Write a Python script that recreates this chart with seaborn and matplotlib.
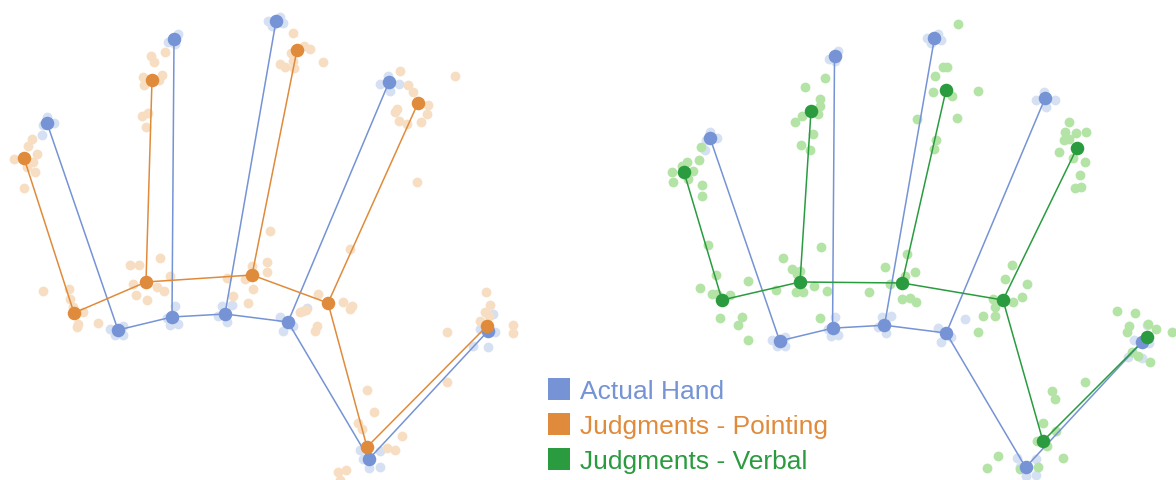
import pandas as pd
import seaborn as sns
import matplotlib.pyplot as plt
from matplotlib.lines import Line2D

# landmark order used by all mean arrays
landmarks = ['wrist', 'thumb', 'index_base', 'index_tip', 'middle_base', 'middle_tip',
             'ring_base', 'ring_tip', 'little_base', 'little_tip']

# mean positions (screen-like units, y grows downward)
actual_x = [369, 488, 288, 389, 225, 276, 172, 174, 118, 47]
actual_y = [460, 332, 323, 83, 315, 22, 318, 40, 331, 124]
pointing_x = [367, 487, 328, 418, 252, 297, 146, 152, 74, 24]
pointing_y = [448, 327, 304, 104, 276, 51, 283, 81, 314, 159]
verbal_x = [386.7, 492.9, 345.9, 421.4, 242.9, 287.8, 138.8, 150.0, 59.2, 20.4]
verbal_y = [433.2, 327.0, 289.3, 134.2, 271.9, 75.0, 270.9, 96.4, 289.3, 158.7]

# individual participants
actual_pts_x = [47, 43, 54, 42, 178, 168, 175, 268, 280, 272, 283, 380, 399, 388, 390,
                110, 123, 115, 123, 175, 167, 178, 170, 222, 232, 218, 227, 280, 283, 293, 307,
                493, 495, 473, 488, 480, 360, 380, 363, 369, 380]
actual_pts_y = [118, 126, 124, 136, 35, 43, 45, 22, 18, 27, 24, 85, 85, 77, 92,
                330, 327, 336, 336, 307, 319, 325, 326, 307, 306, 317, 323, 318, 332, 327, 309,
                315, 333, 347, 348, 330, 451, 452, 460, 469, 468]

pointing_pts_x = [32, 28, 37, 14, 33, 27, 35, 24,
                  151, 154, 165, 143, 162, 144, 159, 142, 148, 146,
                  293, 291, 304, 310, 280, 285, 293, 294, 323,
                  400, 408, 413, 428, 427, 397, 395, 399, 407, 421, 455, 417,
                  43, 69, 70, 73, 83, 78, 77, 98,
                  130, 139, 160, 133, 170, 157, 164, 136, 147,
                  227, 245, 252, 267, 267, 253, 233, 248, 270,
                  318, 343, 352, 350, 303, 300, 306, 317, 315, 350,
                  486, 490, 485, 489, 480, 513, 513, 447, 447,
                  367, 374, 358, 362, 402, 387, 395, 338, 346, 340]
pointing_pts_y = [140, 147, 155, 160, 163, 168, 173, 189,
                  57, 63, 53, 78, 76, 86, 81, 117, 114, 128,
                  34, 54, 47, 50, 65, 68, 62, 69, 63,
                  72, 86, 93, 106, 115, 110, 113, 122, 125, 123, 77, 183,
                  292, 290, 300, 308, 313, 325, 328, 324,
                  266, 266, 259, 285, 277, 288, 292, 296, 301,
                  279, 280, 267, 263, 273, 290, 297, 304, 232,
                  295, 303, 307, 310, 312, 313, 311, 327, 332, 250,
                  293, 306, 313, 317, 322, 326, 334, 333, 383,
                  391, 413, 424, 430, 437, 449, 451, 473, 471, 481]

verbal_pts_x = [37.8, 35.7, 23.5, 8.2, 29.6, 18.4, 9.2, 38.8, 38.8, 24.5,
                164.3, 143.9, 159.2, 159.2, 157.1, 140.8, 133.7, 152.0, 139.8, 149.0,
                300.0, 284.7, 288.8, 276.5, 274.5, 293.9, 320.4, 299.0, 258.2, 277.6, 275.5,
                413.3, 409.2, 420.4, 430.6, 408.2, 413.3, 403.1, 417.3, 429.6, 424.5, 419.4, 425.5,
                44.9, 53.1, 36.7, 49.0, 54.1, 67.3, 85.7, 57.1, 79.6, 75.5, 85.7,
                160.2, 121.4, 130.6, 138.8, 135.7, 114.3, 134.7, 141.8, 153.1, 166.3, 159.2,
                248.0, 225.5, 245.9, 256.1, 230.6, 209.2, 242.9, 251.0, 257.1,
                355.1, 348.0, 370.4, 365.3, 356.1, 335.7, 337.8, 337.8, 325.5, 320.4,
                462.2, 480.6, 493.9, 502.0, 474.5, 472.4, 518.4, 477.6, 483.7, 495.9, 429.6,
                395.9, 399.0, 386.7, 400.0, 380.6, 390.8, 340.8, 407.1, 329.6, 363.3, 381.6]
verbal_pts_y = [133.2, 146.4, 148.5, 158.7, 157.7, 152.6, 168.9, 171.9, 183.2, 165.8,
                62.8, 71.9, 84.2, 91.3, 99.5, 101.5, 107.7, 119.9, 131.1, 136.2,
                7.7, 51.5, 51.5, 60.7, 77.0, 81.1, 76.0, 103.6, 104.6, 126.0, 135.2,
                107.7, 117.9, 118.9, 117.9, 126.0, 125.0, 138.3, 144.4, 148.5, 161.7, 175.0, 174.0,
                233.2, 263.8, 277.0, 283.2, 283.2, 284.2, 269.9, 307.7, 306.6, 314.8, 330.1,
                235.2, 246.4, 257.7, 259.7, 262.8, 279.1, 281.1, 281.1, 275.0, 280.1, 307.7,
                242.3, 255.6, 264.8, 260.7, 273.0, 281.1, 288.3, 287.2, 291.3,
                253.6, 267.9, 273.0, 286.2, 291.3, 288.3, 296.4, 305.6, 305.6, 321.9,
                300.5, 302.6, 313.8, 318.9, 315.8, 321.9, 321.9, 342.3, 346.4, 352.6, 373.0,
                382.1, 390.3, 414.8, 423.0, 433.2, 438.3, 448.5, 450.5, 460.7, 461.7, 459.7]

edges = [('little_tip', 'little_base'), ('little_base', 'ring_base'), ('ring_base', 'middle_base'),
         ('middle_base', 'index_base'), ('index_base', 'wrist'), ('wrist', 'thumb'),
         ('ring_base', 'ring_tip'), ('middle_base', 'middle_tip'), ('index_base', 'index_tip')]

BLUE = '#7593d5'
ORANGE = '#e08b3b'
GREEN = '#2a9b3f'
LIGHT_BLUE = '#d6e0f3'
LIGHT_ORANGE = '#f7dec2'
LIGHT_GREEN = '#b4e3a6'

sns.set_style('white')
plt.rcParams['font.family'] = ['Liberation Sans', 'DejaVu Sans']

fig = plt.figure(figsize=(11.76, 4.81), dpi=100)
ax_left = fig.add_axes([0, 0, 560 / 1176, 1])
ax_right = fig.add_axes([664 / 1176, -7.9 / 481, 548.8 / 1176, 471.4 / 481])


def draw_hand(ax, xs, ys, pts_x, pts_y, color, light):
    act = pd.DataFrame({'x': actual_pts_x, 'y': actual_pts_y})
    sns.scatterplot(data=act, x='x', y='y', ax=ax, color=LIGHT_BLUE, s=50,
                    linewidth=0, zorder=1, clip_on=False)
    pts = pd.DataFrame({'x': pts_x, 'y': pts_y})
    sns.scatterplot(data=pts, x='x', y='y', ax=ax, color=light, s=50,
                    linewidth=0, zorder=1, clip_on=False)
    for mx, my, col in [(actual_x, actual_y, BLUE), (xs, ys, color)]:
        pos = dict(zip(landmarks, zip(mx, my)))
        for a, b in edges:
            ax.plot([pos[a][0], pos[b][0]], [pos[a][1], pos[b][1]], color=col, lw=1.1, zorder=2)
    for mx, my, col in [(actual_x, actual_y, BLUE), (xs, ys, color)]:
        sns.scatterplot(x=mx, y=my, ax=ax, color=col, s=95, linewidth=0, zorder=3, clip_on=False)
    ax.set_xlim(0, 560)
    ax.set_ylim(481, 0)
    ax.axis('off')


draw_hand(ax_left, pointing_x, pointing_y, pointing_pts_x, pointing_pts_y, ORANGE, LIGHT_ORANGE)
draw_hand(ax_right, verbal_x, verbal_y, verbal_pts_x, verbal_pts_y, GREEN, LIGHT_GREEN)

labels = ['Actual Hand', 'Judgments - Pointing', 'Judgments - Verbal']
colors = [BLUE, ORANGE, GREEN]
handles = [Line2D([], [], marker='s', ls='', markersize=16.5, markeredgewidth=0, color=c)
           for c in colors]
fig.legend(handles, labels, loc='upper left', bbox_to_anchor=(546 / 1176, 1 - 380 / 481),
           frameon=False, fontsize=19, labelcolor=colors, handletextpad=0.3,
           labelspacing=0.42, handlelength=1.0, borderpad=0, borderaxespad=0)

fig.savefig('out.png', dpi=100, facecolor='white')
